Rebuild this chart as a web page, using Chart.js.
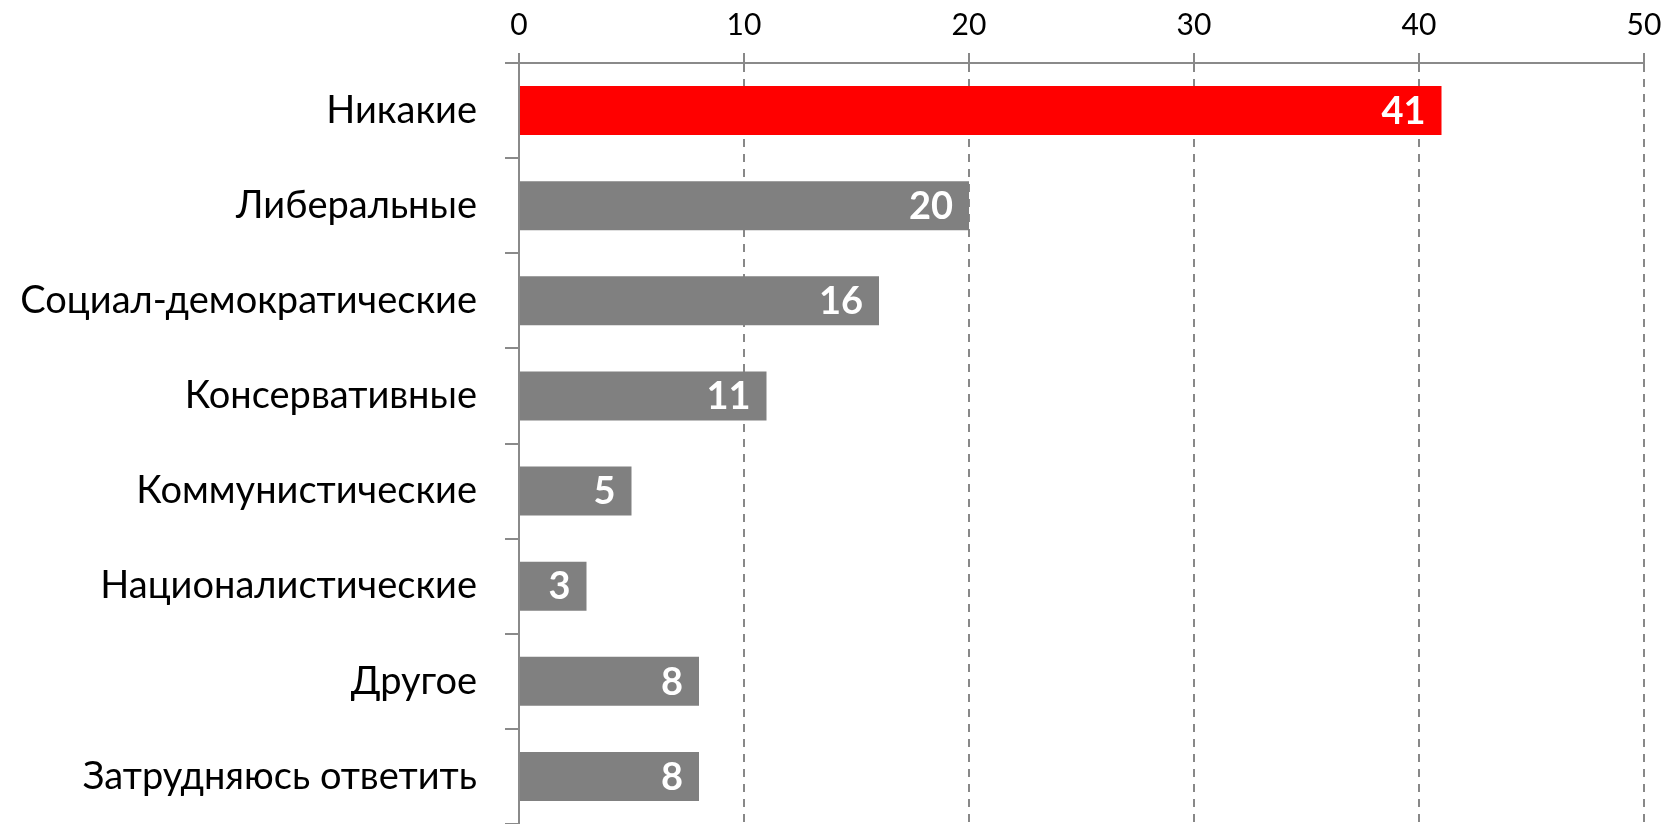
<!DOCTYPE html>
<html>
<head>
<meta charset="utf-8">
<script src="https://cdn.jsdelivr.net/npm/chart.js@4.4.0/dist/chart.umd.min.js"></script>
<style>
  html, body { margin: 0; padding: 0; background: #fff; }
  #wrap { width: 1678px; height: 824px; position: relative; }
</style>
</head>
<body>
<div id="wrap"><canvas id="chart"></canvas></div>
<script>
// data
const categories = [
  'Никакие',
  'Либеральные',
  'Социал-демократические',
  'Консервативные',
  'Коммунистические',
  'Националистические',
  'Другое',
  'Затрудняюсь ответить'
];
const values = [41, 20, 16, 11, 5, 3, 8, 8];
const xTicks = [0, 10, 20, 30, 40, 50];

const barColors = categories.map((c, i) => i === 0 ? '#FF0000' : '#808080');

// white value labels inside the end of each bar
const valueLabels = {
  id: 'valueLabels',
  afterDatasetsDraw(chart) {
    const ctx = chart.ctx;
    const meta = chart.getDatasetMeta(0);
    ctx.save();
    ctx.fillStyle = '#fff';
    ctx.font = 'bold 38px Lato';
    ctx.textAlign = 'right';
    ctx.textBaseline = 'middle';
    meta.data.forEach((bar, i) => {
      ctx.fillText(String(values[i]), bar.x - 16, bar.y + 1);
    });
    ctx.restore();
  }
};

new Chart(document.getElementById('chart').getContext('2d'), {
  type: 'bar',
  data: {
    labels: categories,
    datasets: [{
      data: values,
      backgroundColor: barColors,
      borderWidth: 0,
      categoryPercentage: 1,
      barPercentage: 0.515
    }]
  },
  options: {
    indexAxis: 'y',
    responsive: true,
    maintainAspectRatio: false,
    animation: false,
    layout: { padding: { right: 34, top: 0, bottom: 0, left: 0 } },
    plugins: {
      legend: { display: false },
      tooltip: { enabled: false }
    },
    scales: {
      x: {
        position: 'top',
        min: 0,
        max: 50,
        afterBuildTicks: (s) => { s.ticks = xTicks.map(v => ({ value: v })); },
        afterFit: (s) => { s.height = 63; s.paddingLeft = 0; s.paddingRight = 0; },
        ticks: {
          color: '#000',
          font: { family: 'Lato', size: 30 },
          padding: 10
        },
        grid: {
          color: '#888',
          lineWidth: 2,
          tickLength: 10,
          tickColor: '#888'
        },
        border: { color: '#8a8a8a', width: 2, dash: [8, 7] }
      },
      y: {
        afterFit: (s) => { s.width = 519; s.paddingTop = 0; s.paddingBottom = 0; },
        ticks: {
          color: '#000',
          font: { family: 'Lato', size: 38 },
          padding: 28
        },
        grid: {
          drawOnChartArea: false,
          color: '#8a8a8a',
          lineWidth: 2,
          tickLength: 14
        },
        border: { color: '#8a8a8a', width: 2 }
      }
    }
  },
  plugins: [valueLabels]
});
</script>
</body>
</html>
